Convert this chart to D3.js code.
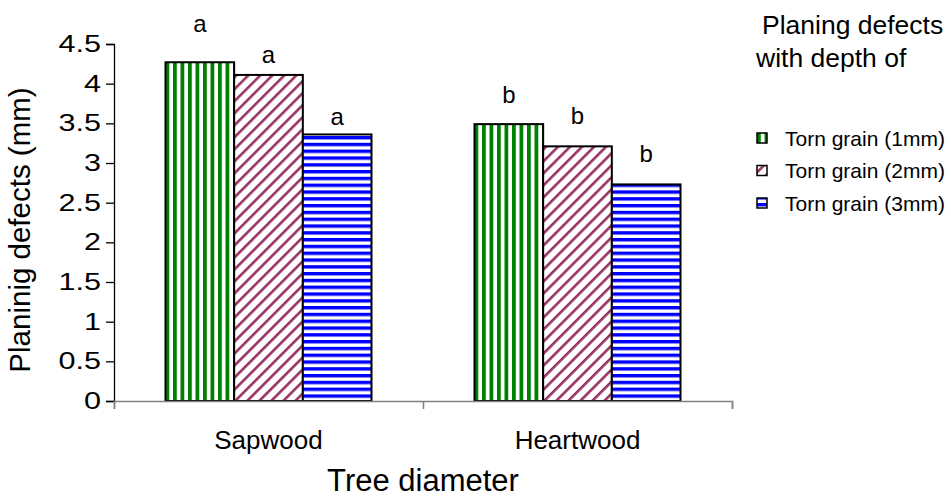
<!DOCTYPE html>
<html><head><meta charset="utf-8">
<script src="https://cdn.jsdelivr.net/npm/d3@7"></script>
<style>body{margin:0;background:#fff}svg{display:block;font-family:"Liberation Sans",Arial,sans-serif}</style>
</head><body><svg id="c" width="951" height="498"></svg>
<script>
const categories = ["Sapwood", "Heartwood"];
const seriesNames = ["Torn grain (1mm)", "Torn grain (2mm)", "Torn grain (3mm)"];
const valuesSapwood = [4.27, 4.11, 3.36];
const valuesHeartwood = [3.49, 3.21, 2.73];
const lettersSapwood = ["a", "a", "a"];
const lettersHeartwood = ["b", "b", "b"];
const letterLevelSapwood = [4.73, 4.34, 3.56];
const letterLevelHeartwood = [3.84, 3.57, 3.09];
const yTicks = [0, 0.5, 1, 1.5, 2, 2.5, 3, 3.5, 4, 4.5];
const yTitle = "Planinig defects (mm)";
const xTitle = "Tree diameter";
const legendTitle = ["Planing defects", "with depth of"];

(function () {
const rows = categories.map((c, i) => ({
  cat: c,
  vals: i === 0 ? valuesSapwood : valuesHeartwood,
  letters: i === 0 ? lettersSapwood : lettersHeartwood,
  levels: i === 0 ? letterLevelSapwood : letterLevelHeartwood
}));

const svg = d3.select("#c");
const defs = svg.append("defs");
const p1 = defs.append("pattern").attr("id", "p0").attr("patternUnits", "userSpaceOnUse").attr("width", 7.5).attr("height", 8);
p1.append("rect").attr("width", 7.5).attr("height", 8).attr("fill", "#fff");
p1.append("rect").attr("x", 0).attr("width", 3.8).attr("height", 8).attr("fill", "#008000");
const p2 = defs.append("pattern").attr("id", "p1").attr("patternUnits", "userSpaceOnUse").attr("width", 8.5).attr("height", 8.5).attr("patternTransform", "rotate(45)");
p2.append("rect").attr("width", 8.5).attr("height", 8.5).attr("fill", "#fff");
p2.append("rect").attr("x", 0).attr("width", 2.6).attr("height", 8.5).attr("fill", "#993366");
const p3 = defs.append("pattern").attr("id", "p2").attr("patternUnits", "userSpaceOnUse").attr("width", 8).attr("height", 6.8);
p3.append("rect").attr("width", 8).attr("height", 6.8).attr("fill", "#fff");
p3.append("rect").attr("y", 0).attr("width", 8).attr("height", 3.4).attr("fill", "#0000ff");

const mLeft = 114, mRight = 732, mTop = 44, mBottom = 401;
const x0 = d3.scaleBand().domain(categories).range([mLeft, mRight]).padding(0);
const groupW = x0.bandwidth() * 2 / 3;
const x1 = d3.scaleBand().domain(seriesNames).range([0, groupW]).padding(0);
const y = d3.scaleLinear().domain([0, 4.5]).range([mBottom, mTop]);

const g = svg.append("g");
const grp = g.selectAll("g.cat").data(rows).enter().append("g")
  .attr("transform", d => `translate(${x0(d.cat) + (x0.bandwidth() - groupW) / 2},0)`);
grp.selectAll("rect").data(d => d.vals.map((v, i) => ({v, s: seriesNames[i], i}))).enter().append("rect")
  .attr("x", d => x1(d.s)).attr("width", x1.bandwidth())
  .attr("y", d => y(d.v)).attr("height", d => y(0) - y(d.v))
  .attr("fill", d => `url(#p${d.i})`).attr("stroke", "#000").attr("stroke-width", 2);
grp.selectAll("text").data(d => d.letters.map((l, i) => ({l, lv: d.levels[i], s: seriesNames[i]}))).enter().append("text")
  .attr("x", d => x1(d.s) + x1.bandwidth() / 2).attr("y", d => y(d.lv))
  .attr("text-anchor", "middle").attr("dominant-baseline", "middle")
  .attr("font-size", 24).text(d => d.l);

const yAxis = svg.append("g").attr("transform", `translate(${mLeft},0)`)
  .call(d3.axisLeft(y).tickValues(yTicks).tickSize(8).tickPadding(4).tickFormat(d3.format("")));
yAxis.select(".domain").attr("stroke", "#000").attr("stroke-width", 1.3);
yAxis.selectAll(".tick line").attr("stroke", "#000").attr("stroke-width", 1.3);
yAxis.selectAll(".tick text").attr("font-size", 23).attr("font-family", "Liberation Sans, Arial, sans-serif")
  .attr("fill", "#000").attr("x", -13 / 1.33).attr("transform", "scale(1.33,1)");

const xAxisScale = d3.scaleLinear().domain([0, categories.length]).range([mLeft, mRight]);
const xAxis = svg.append("g").attr("transform", `translate(0,${mBottom})`)
  .call(d3.axisBottom(xAxisScale).tickValues(d3.range(categories.length + 1)).tickSize(8).tickFormat(""));
xAxis.select(".domain").attr("stroke", "#808080").attr("stroke-width", 1.5);
xAxis.selectAll(".tick line").attr("stroke", "#808080").attr("stroke-width", 1.5);
svg.append("g").selectAll("text").data(categories).enter().append("text")
  .attr("x", d => x0(d) + x0.bandwidth() / 2).attr("y", 449)
  .attr("text-anchor", "middle").attr("font-size", 26).text(d => d);

svg.append("text").attr("transform", `translate(30,230) rotate(-90)`)
  .attr("text-anchor", "middle").attr("font-size", 29.5).text(yTitle);
svg.append("text").attr("x", (mLeft + mRight) / 2).attr("y", 491)
  .attr("text-anchor", "middle").attr("font-size", 31).text(xTitle);

const lg = svg.append("g");
lg.selectAll("text.t").data(legendTitle).enter().append("text")
  .attr("x", (d, i) => i === 0 ? 762 : 756).attr("y", (d, i) => 34 + i * 33)
  .attr("font-size", 26.5).text(d => d);
const items = lg.selectAll("g.it").data(seriesNames).enter().append("g")
  .attr("transform", (d, i) => `translate(757,${138 + i * 32.5})`);
items.append("rect").attr("x", 0).attr("y", -5).attr("width", 10).attr("height", 10)
  .attr("fill", (d, i) => `url(#p${i})`).attr("stroke", "#000").attr("stroke-width", 1.5);
items.append("text").attr("x", 28).attr("y", 0).attr("dominant-baseline", "central")
  .attr("font-size", 21).text(d => d);
})();
</script></body></html>
